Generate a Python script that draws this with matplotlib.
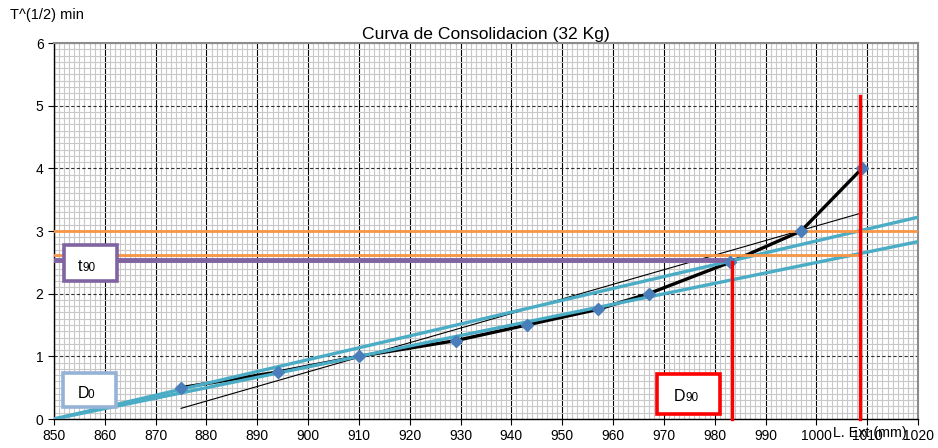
import matplotlib
matplotlib.use("Agg")
from matplotlib import pyplot as plt
from matplotlib.patches import Rectangle
from matplotlib.ticker import MultipleLocator

plt.rcParams['font.family'] = ['Liberation Sans', 'DejaVu Sans']

# lecturas del ensayo (32 Kg)
lectura = [875, 894, 910, 929, 943, 957, 967, 983, 997, 1009]
raiz_t = [0.5, 0.75, 1.0, 1.25, 1.5, 1.75, 2.0, 2.5, 3.0, 4.0]

# recta de ajuste fina
ajuste_x = [875, 1009]
ajuste_y = [0.17, 3.29]

# rectas de Taylor (celestes)
recta1_x = [850, 1020]
recta1_y = [0.0, 3.22]
recta2_x = [850, 1020]
recta2_y = [0.0, 2.83]

# horizontales
naranja1_x = [850, 1020]
naranja1_y = [3.0, 3.0]
naranja2_x = [850, 1008.6]
naranja2_y = [2.62, 2.62]
t90_x = [850, 983.4]
t90_y = [2.54, 2.54]

# verticales
d90_x = [983.4, 983.4]
d90_y = [0.0, 2.51]
d100_x = [1008.6, 1008.6]
d100_y = [0.0, 5.15]

fig = plt.figure(figsize=(9.38, 4.48), dpi=100)
ax = fig.add_axes([54/938, 29/448, 864/938, 376/448])

ax.set_xlim(850, 1020)
ax.set_ylim(0, 6)
ax.xaxis.set_major_locator(MultipleLocator(10))
ax.xaxis.set_minor_locator(MultipleLocator(1))
ax.yaxis.set_major_locator(MultipleLocator(1))
ax.yaxis.set_minor_locator(MultipleLocator(0.1))

ax.grid(which='minor', color='#c8c8c8', linewidth=0.8, zorder=0)
ax.grid(which='major', axis='x', color='#000000', linewidth=0.8, zorder=0.5)
ax.grid(which='major', axis='y', color='#303030', linewidth=0.8, linestyle=(0, (3, 2)), zorder=0.5)
ax.set_axisbelow(True)

ax.tick_params(which='minor', length=0)
ax.tick_params(which='major', length=4, width=0.8, labelsize=10, color='black')
for s in ['top', 'right']:
    ax.spines[s].set_color('#8c8c8c')
    ax.spines[s].set_linewidth(1.5)
for s in ['left', 'bottom']:
    ax.spines[s].set_color('black')
    ax.spines[s].set_linewidth(1.0)

ax.plot(lectura, raiz_t, color='black', linewidth=2.4, zorder=3)
ax.plot(ajuste_x, ajuste_y, color='black', linewidth=0.8, zorder=3)
ax.plot(recta1_x, recta1_y, color='#4bacc6', linewidth=2.4, zorder=4)
ax.plot(recta2_x, recta2_y, color='#4bacc6', linewidth=2.4, zorder=4)
ax.plot(naranja1_x, naranja1_y, color='#f79646', linewidth=2.0, zorder=4)
ax.plot(naranja2_x, naranja2_y, color='#f79646', linewidth=2.0, zorder=4)
ax.plot(t90_x, t90_y, color='#8064a2', linewidth=3.5, zorder=4)
ax.plot(lectura, raiz_t, linestyle='none', marker='D', markersize=6.5,
        color='#4a7ebb', zorder=5)
ax.plot(d90_x, d90_y, color='#ff0000', linewidth=2.4, zorder=6, clip_on=False)
ax.plot(d100_x, d100_y, color='#ff0000', linewidth=2.4, zorder=6, clip_on=False)

# cuadros de texto
cuadros = [
    (0.011, 0.368, 0.0623, 0.096, '#8064a2', 't', '90', 0.027, 0.0332, 0.394),
    (0.0101, 0.031, 0.0617, 0.0905, '#95b3d7', 'D', '0', 0.027, 0.0388, 0.055),
    (0.698, 0.0133, 0.073, 0.1064, '#ff0000', 'D', '90', 0.7168, 0.7309, 0.0487),
]
for x0, y0, w, h, col, a, b, xa, xb, yb in cuadros:
    ax.add_patch(Rectangle((x0, y0), w, h, transform=ax.transAxes, facecolor='white',
                           edgecolor=col, linewidth=2.6, zorder=7))
    ax.text(xa, yb, a, transform=ax.transAxes, fontsize=11.5, va='baseline', zorder=8)
    ax.text(xb, yb, b, transform=ax.transAxes, fontsize=8.5, va='baseline', zorder=8)

ax.set_title('Curva de Consolidacion (32 Kg)', fontsize=12.6, pad=3)
fig.text(10/938, 1 - 15/448, 'T^(1/2) min', fontsize=10.5, va='center', ha='left')
ax.text(0.944, -0.037, 'L. Ext (mm)', transform=ax.transAxes, fontsize=10.3,
        ha='center', va='center')

fig.savefig('out.png', dpi=100)
